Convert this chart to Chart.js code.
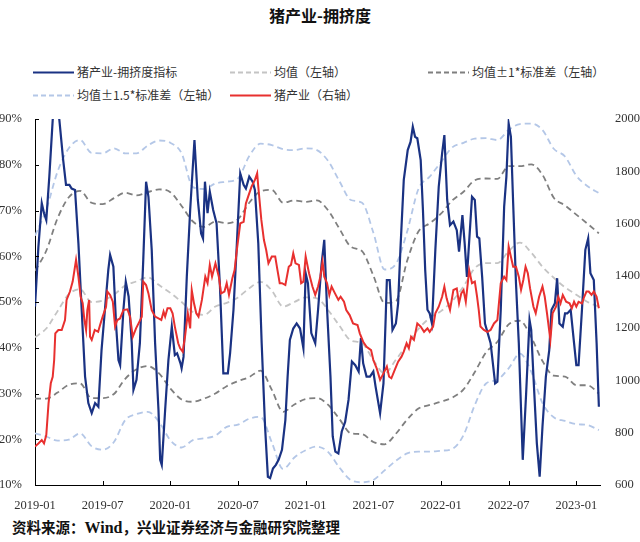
<!DOCTYPE html>
<html>
<head>
<meta charset="utf-8">
<script src="https://cdn.jsdelivr.net/npm/chart.js@4.4.1/dist/chart.umd.min.js"></script>
<style>
  html,body{margin:0;padding:0;background:#fff;}
  body{width:640px;height:542px;position:relative;overflow:hidden;font-family:"Noto Sans CJK SC","Noto Sans",sans-serif;}
  #title{position:absolute;left:0;top:3px;width:640px;text-align:center;font-size:16px;font-weight:700;color:#111;}
  .lg{position:absolute;font-size:12px;color:#333;white-space:nowrap;line-height:14px;}
  .lg svg{position:absolute;top:0;}
  #src{position:absolute;left:12px;top:516px;font-size:14.5px;font-weight:700;color:#111;white-space:nowrap;}
  #src .w{font-family:"Liberation Serif",serif;font-size:16px;}
  canvas{position:absolute;left:0;top:0;}
</style>
</head>
<body>
<div id="title">猪产业-拥挤度</div>
<div id="legend"></div>
<canvas id="c" width="640" height="510"></canvas>
<div id="src">资料来源：<span class="w">Wind</span>，兴业证券经济与金融研究院整理</div>
<script>
// ---- tick labels ----
const tickMonths = [0, 6, 12, 18, 24, 30, 36, 42, 48];
const tickLabels = ['2019-01','2019-07','2020-01','2020-07','2021-01','2021-07','2022-01','2022-07','2023-01'];

// ---- band series (months since 2019-01, left axis %) ----
const bandMonths = [0,1,2,3,4,5,6,7,8,9,10,11,12,13,14,15,16,17,18,19,20,21,22,23,24,25,26,27,28,29,30,31,32,33,34,35,36,37,38,39,40,41,42,43,44,45,46,47,48,49,50];
const meanVals = [42.3,44.2,48.0,51.7,52.8,50.0,50.3,51.6,53.6,54.5,55.4,53.7,52.0,50.0,47.8,47.2,49.0,49.8,51.0,53.0,54.4,52.5,49.0,50.0,51.0,50.8,48.2,44.8,41.6,41.0,37.3,34.4,37.4,40.7,44.1,46.5,48.0,50.2,53.4,57.4,58.5,58.5,61.1,63.0,60.8,57.7,55.3,53.2,51.6,50.0,49.0];
const upper1Vals = [56.8,61.2,68.3,72.9,74.3,71.7,71.4,72.7,73.9,73.3,74.0,74.6,74.0,71.0,67.6,66.4,67.6,67.2,68.1,71.7,74.2,74.5,71.7,72.2,71.9,72.2,70.0,66.0,62.1,61.1,55.8,49.8,50.2,59.0,65.4,67.2,69.3,72.2,74.1,76.6,77.0,76.9,79.7,79.7,80.1,77.8,72.8,71.1,69.1,67.1,65.0];
const lower1Vals = [28.9,28.9,30.2,31.9,32.2,29.0,29.0,29.9,33.2,35.3,36.0,34.4,31.1,28.7,28.2,28.9,30.0,31.6,32.7,33.6,35.0,30.8,26.0,27.6,28.8,29.0,27.5,24.4,21.3,21.1,19.4,18.9,21.2,24.3,26.7,27.5,28.2,29.1,30.9,34.7,39.0,41.3,45.1,45.9,42.3,37.1,33.9,33.7,31.8,31.8,30.0];
const upper15Vals = [64.5,70.2,78.5,83.6,85.4,82.6,82.5,83.6,82.5,82.5,84.2,85.3,84.8,82.5,75.1,74.7,75.9,76.3,77.0,81.9,84.6,84.3,83.4,83.2,83.6,83.2,80.8,76.4,72.3,71.7,65.2,57.1,58.3,65.4,74.7,77.4,80.6,83.8,84.8,85.7,85.8,85.4,87.6,88.9,89.0,87.6,83.5,81.8,77.6,75.3,73.8];
const lower15Vals = [21.3,20.6,19.7,19.9,21.3,18.5,17.7,19.4,24.2,25.5,26.0,23.8,19.8,18.2,19.8,20.2,20.8,22.7,23.2,24.5,24.9,19.3,13.5,16.0,17.6,18.4,17.2,13.8,11.1,10.6,11.1,13.2,15.3,16.9,17.3,17.3,17.5,17.9,20.9,27.5,32.2,33.0,35.5,38.7,34.8,27.9,24.8,24.0,23.3,23.1,22.0];

// ---- crowding index (left axis %) ----
const idxMonths = [0,0.3,0.6,0.8,1.0,1.27,1.57,1.86,2.16,2.5,2.75,3.05,3.25,3.55,3.85,4.14,4.44,4.73,5.03,5.33,5.62,5.9,6.2,6.5,6.66,6.95,7.2,7.4,7.55,7.84,8.05,8.3,8.58,8.73,9.0,9.3,9.6,9.85,10.06,10.35,10.65,10.95,11.1,11.24,11.54,11.83,12.13,12.4,12.6,12.9,13.0,13.17,13.46,13.76,14.14,14.44,14.73,14.9,15.07,15.3,15.5,15.8,16.1,16.4,16.7,17.1,17.3,17.6,17.9,18.2,18.5,18.7,19.0,19.3,19.5,19.8,20.1,20.4,20.65,20.85,21.1,21.36,21.6,21.9,22.2,22.4,22.6,22.9,23.2,23.5,23.8,24.0,24.2,24.5,24.85,25.1,25.4,25.65,25.9,26.2,26.4,26.63,26.9,27.2,27.5,27.8,28.1,28.4,28.7,28.9,29.1,29.4,29.7,30.0,30.2,30.6,30.9,31.1,31.2,31.45,31.7,32.0,32.2,32.4,32.7,33.05,33.3,33.5,33.7,33.9,34.2,34.4,34.6,34.8,35.0,35.2,35.5,35.8,36.1,36.3,36.55,36.8,37.1,37.4,37.6,37.9,38.1,38.3,38.75,39.0,39.2,39.4,39.65,39.9,40.4,40.8,41.0,41.3,41.6,41.8,42.0,42.2,42.4,42.65,42.9,43.1,43.25,43.55,43.85,44.0,44.2,44.5,44.75,45.0,45.3,45.6,45.8,46.1,46.3,46.5,46.8,47.0,47.2,47.5,47.8,48.0,48.2,48.5,48.8,49.05,49.25,49.55,49.8,50.0];
const idxVals = [49,62,71.6,69.4,67.9,77.4,89.8,95,89.8,81,75.6,75.6,74.8,74.5,62.8,48.3,33.7,27.9,25.7,27.9,27.1,39.5,48.3,57,60.3,57.7,44.6,37.3,36.2,48.3,54.4,51.2,41,30.8,33,41,59.2,76.3,73,61.4,41,26.4,15.5,14.4,26.4,37.3,44.6,38.4,38.8,36.6,35.5,38,55.5,70.1,85.4,72.3,65,63.9,76.3,69.4,74.1,70.1,67.2,53.4,34.4,34.4,38.8,48.3,62.8,78.1,75.6,74.8,77.4,76.3,74.5,62.8,41,22.8,11.8,11.5,13.6,14.4,15.5,17.7,24.2,33.7,41.7,44.2,45.3,44.2,39.9,56.3,54.1,43.2,41,48.3,58,63.6,48.3,33.7,20.6,17.3,16.9,21.7,23.8,28.6,37,36.2,34.8,42.1,36.6,33.7,33.7,34.8,31.5,25.7,32.2,46.8,54.8,54.8,43.9,45.3,49.7,61.4,76.7,83.2,85,88.3,86.1,85.8,81,70.1,57,48.3,47.5,45.3,61.4,75.2,82.5,86.5,72.3,66.8,67.6,65.7,61,69,62.8,55.5,73,72.3,64.3,63.9,55.5,45.3,41,32.2,32.6,48.3,70.8,77.4,89,86.1,71.6,54.1,41,26.4,15.5,30,46.1,43.9,33.7,19.1,11.8,22.8,33.7,39.5,48.3,49.7,55.2,45.3,44.6,47.5,47.5,48.3,41,36.2,36.2,48.3,61.4,63.9,56.3,54.8,41,27.1];

// ---- hog industry index (right axis) ----
const hogMonths = [0,0.3,0.6,0.8,1.0,1.2,1.4,1.57,1.7,1.8,2.07,2.37,2.66,2.8,3.1,3.34,3.5,3.64,3.85,4.05,4.23,4.38,4.53,4.64,4.8,4.88,5.03,5.3,5.6,5.77,6.0,6.3,6.42,6.66,6.9,7.1,7.3,7.54,7.84,8.2,8.43,8.67,8.96,9.26,9.47,9.6,9.85,10.06,10.35,10.65,10.95,11.2,11.4,11.54,11.75,12.0,12.2,12.4,12.7,12.87,13.1,13.3,13.55,13.76,13.9,14.1,14.3,14.5,14.8,15.1,15.3,15.5,15.7,16.0,16.3,16.5,16.8,17.0,17.2,17.5,17.7,17.9,18.2,18.5,18.7,18.9,19.2,19.5,19.7,19.8,20.07,20.3,20.5,20.7,21.0,21.3,21.5,21.7,21.9,22.2,22.5,22.7,22.9,23.1,23.4,23.6,23.8,24.0,24.3,24.6,24.85,25.1,25.3,25.5,25.65,25.9,26.1,26.3,26.6,26.9,27.1,27.4,27.6,27.9,28.2,28.6,28.8,29.1,29.4,29.8,30.0,30.3,30.6,30.9,31.2,31.4,31.6,31.9,32.2,32.5,32.7,32.95,33.15,33.35,33.6,33.9,34.2,34.5,34.8,35.0,35.3,35.5,35.8,36.1,36.3,36.5,36.8,37.1,37.4,37.6,37.8,38.0,38.2,38.5,38.75,39.0,39.2,39.35,39.5,39.8,40.1,40.4,40.7,41.0,41.3,41.6,41.8,42.0,42.2,42.4,42.65,42.9,43.1,43.3,43.5,43.7,43.9,44.2,44.4,44.7,45.0,45.2,45.4,45.7,45.9,46.2,46.4,46.6,46.8,47.1,47.4,47.6,47.8,48.0,48.2,48.5,48.7,48.9,49.1,49.35,49.55,49.8,50.0];
const hogVals = [747,759,772,759,791,912,989,1014,1078,1180,1193,1193,1231,1308,1340,1378,1422,1461,1397,1320,1295,1231,1193,1269,1308,1167,1155,1193,1186,1212,1244,1282,1340,1327,1301,1206,1231,1237,1269,1272,1244,1167,1199,1225,1244,1378,1365,1333,1269,1244,1237,1231,1263,1244,1276,1276,1257,1206,1142,1123,1110,1167,1257,1199,1346,1295,1257,1244,1308,1397,1372,1442,1397,1448,1397,1333,1340,1372,1327,1391,1422,1499,1601,1607,1677,1703,1741,1767,1792,1741,1614,1537,1499,1448,1474,1474,1422,1372,1372,1365,1435,1442,1486,1448,1442,1372,1378,1474,1410,1359,1327,1359,1397,1454,1397,1372,1327,1359,1333,1308,1320,1301,1269,1250,1218,1212,1180,1148,1129,1116,1078,1046,1002,1027,1053,1014,1008,1040,1072,1091,1110,1142,1123,1167,1155,1218,1206,1186,1199,1186,1206,1257,1282,1320,1359,1314,1269,1346,1352,1295,1333,1346,1301,1422,1372,1378,1320,1269,1206,1193,1186,1193,1218,1231,1372,1397,1384,1512,1473,1435,1435,1397,1346,1384,1435,1410,1352,1282,1257,1320,1359,1320,1257,1155,1257,1282,1320,1295,1327,1301,1295,1276,1301,1282,1301,1295,1320,1340,1340,1327,1340,1320,1276];

const C = {
  idx: '#1a3283', hog: '#e8302f',
  mean: '#c4c4c4', sd1: '#7f7f7f', sd15: '#b4c7e7'
};
const pts = (xs, ys) => xs.map((x, i) => ({x: x, y: ys[i]}));
const dash = [6, 4];

const datasets = [
  {label:'猪产业（右轴）', data: pts(hogMonths, hogVals), yAxisID:'y2', borderColor:C.hog, borderWidth:2, tension:0},
  {label:'猪产业-拥挤度指标', data: pts(idxMonths, idxVals), yAxisID:'y', borderColor:C.idx, borderWidth:2.2, tension:0},
  {label:'均值（左轴）', data: pts(bandMonths, meanVals), yAxisID:'y', borderColor:C.mean, borderWidth:1.8, borderDash:dash, cubicInterpolationMode:'monotone'},
  {label:'均值±1*标准差（左轴）', data: pts(bandMonths, upper1Vals), yAxisID:'y', borderColor:C.sd1, borderWidth:1.8, borderDash:dash, cubicInterpolationMode:'monotone'},
  {label:'', data: pts(bandMonths, lower1Vals), yAxisID:'y', borderColor:C.sd1, borderWidth:1.8, borderDash:dash, cubicInterpolationMode:'monotone'},
  {label:'均值±1.5*标准差（左轴）', data: pts(bandMonths, upper15Vals), yAxisID:'y', borderColor:C.sd15, borderWidth:1.8, borderDash:dash, cubicInterpolationMode:'monotone'},
  {label:'', data: pts(bandMonths, lower15Vals), yAxisID:'y', borderColor:C.sd15, borderWidth:1.8, borderDash:dash, cubicInterpolationMode:'monotone'}
];
datasets.forEach(d => { d.pointRadius = 0; d.fill = false; });

const numFont = {family:'"Liberation Serif", "Times New Roman", serif', size:12.5};

const innerTicks = {
  id:'innerTicks',
  afterDraw(chart){
    const ctx = chart.ctx, x = chart.scales.x, y = chart.scales.y;
    ctx.save();
    ctx.strokeStyle = '#000'; ctx.lineWidth = 1;
    ctx.beginPath();
    tickMonths.forEach(m => {
      const px = Math.round(x.getPixelForValue(m)) + 0.5;
      ctx.moveTo(px, x.top); ctx.lineTo(px, x.top - 4);
    });
    y.ticks.forEach(t => {
      const py = Math.round(y.getPixelForValue(t.value)) + 0.5;
      ctx.moveTo(y.right, py); ctx.lineTo(y.right + 4, py);
    });
    ctx.stroke();
    ctx.restore();
  }
};

new Chart(document.getElementById('c'), {
  type:'line',
  data:{datasets},
  options:{
    responsive:false, animation:false, parsing:true,
    layout:{padding:{top:119, left:0, right:0, bottom:0}},
    plugins:{legend:{display:false}, tooltip:{enabled:false}},
    scales:{
      x:{type:'linear', min:0, max:50.1,
         grid:{display:false}, border:{display:true, color:'#000', width:1},
         afterBuildTicks: s => { s.ticks = tickMonths.map(v => ({value:v})); },
         afterFit: s => { s.height = 25; },
         ticks:{autoSkip:false, maxRotation:0, padding:5, color:'#333', font:numFont,
                callback: v => tickLabels[tickMonths.indexOf(v)]}},
      y:{position:'left', min:10, max:90,
         grid:{display:false}, border:{display:true, color:'#000', width:1},
         afterFit: s => { s.width = 35; },
         ticks:{stepSize:10, padding:5, color:'#333', font:numFont, callback: v => v + '%'}},
      y2:{position:'right', min:600, max:2000,
         grid:{display:false}, border:{display:false},
         afterFit: s => { s.width = 40; },
         ticks:{stepSize:200, padding:7, color:'#333', font:numFont, callback: v => String(v)}}
    }
  },
  plugins:[innerTicks]
});

// HTML legend
const legendItems = [
  {text:'猪产业-拥挤度指标', color:C.idx, dashed:false, x:33, y:65},
  {text:'均值（左轴）', color:C.mean, dashed:true, x:230, y:65},
  {text:'均值±1*标准差（左轴）', color:C.sd1, dashed:true, x:428, y:65},
  {text:'均值±1.5*标准差（左轴）', color:C.sd15, dashed:true, x:33, y:88},
  {text:'猪产业（右轴）', color:C.hog, dashed:false, x:230, y:88}
];
const lg = document.getElementById('legend');
legendItems.forEach(it => {
  const d = document.createElement('div');
  d.className = 'lg';
  d.style.left = it.x + 'px'; d.style.top = it.y + 'px';
  d.style.paddingLeft = '44px';
  d.innerHTML = '<svg width="41" height="14" style="left:0"><line x1="0" y1="7.5" x2="41" y2="7.5" stroke="' + it.color +
    '" stroke-width="2.2"' + (it.dashed ? ' stroke-dasharray="5,3"' : '') + '/></svg>' + it.text;
  lg.appendChild(d);
});
</script>
</body>
</html>
